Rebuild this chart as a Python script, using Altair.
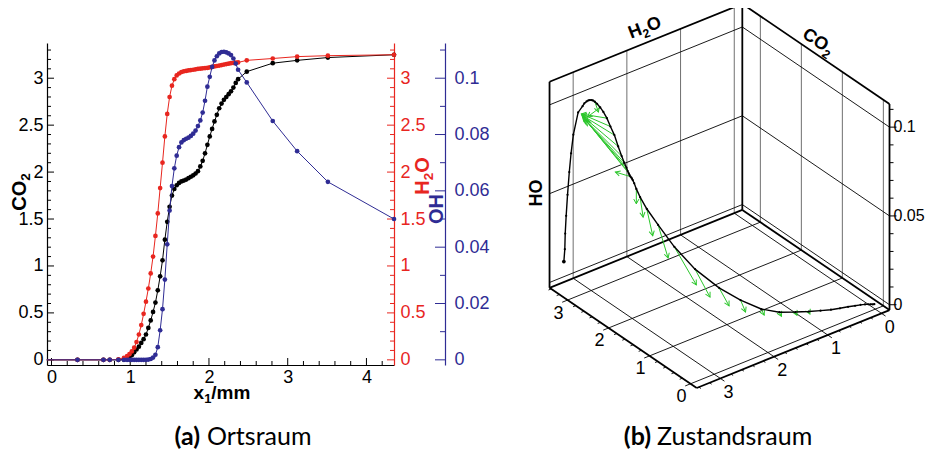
import math
import altair as alt
import pandas as pd

# ---------------- values ----------------
# (a) Ortsraum: common grid x1 [mm] and the three profiles
x1 = [-0.06, 0.33, 0.66, 0.74, 0.85, 0.92, 0.96,
      0.99, 1.02, 1.05, 1.08, 1.11, 1.14, 1.17, 1.20, 1.23, 1.26,
      1.29, 1.32, 1.35, 1.38, 1.41, 1.44, 1.47, 1.50, 1.53, 1.56,
      1.59, 1.62, 1.65, 1.68, 1.71, 1.74, 1.77, 1.80, 1.83, 1.86,
      1.89, 1.92, 1.95, 1.98, 2.01, 2.04, 2.07, 2.10, 2.13, 2.16,
      2.19, 2.22, 2.25, 2.28, 2.31, 2.34, 2.37,
      2.48, 2.81, 3.12, 3.51, 4.35]
co2 = [0, 0, 0, 0, 0, 0.002, 0.01,
       0.03, 0.05, 0.08, 0.11, 0.14, 0.18, 0.22, 0.27, 0.34, 0.42,
       0.51, 0.61, 0.74, 0.89, 1.06, 1.28, 1.47, 1.63, 1.75, 1.82,
       1.86, 1.885, 1.90, 1.91, 1.92, 1.935, 1.95, 1.965, 1.985, 2.01,
       2.06, 2.12, 2.20, 2.29, 2.38, 2.46, 2.54, 2.61, 2.68, 2.73,
       2.77, 2.80, 2.83, 2.86, 2.90, 2.95, 2.99,
       3.07, 3.16, 3.19, 3.22, 3.25]
h2o = [0, 0, 0, 0, 0.005, 0.02, 0.04,
       0.06, 0.09, 0.13, 0.19, 0.27, 0.37, 0.49, 0.62, 0.76, 0.92,
       1.10, 1.32, 1.56, 1.83, 2.10, 2.38, 2.62, 2.80, 2.92, 2.99,
       3.03, 3.05, 3.065, 3.073, 3.078, 3.083, 3.087, 3.09, 3.095, 3.10,
       3.102, 3.105, 3.108, 3.11, 3.115, 3.12, 3.125, 3.13, 3.135, 3.14,
       3.145, 3.15, 3.155, 3.16, 3.162, 3.165, 3.168,
       3.19, 3.21, 3.23, 3.24, 3.25]
oh = [0, 0, 0, 0, 0, 0, 0,
      0, 0, 0, 0, 0, 0, 0, 0, 0.0001, 0.0003,
      0.0008, 0.0018, 0.0045, 0.0105, 0.018, 0.0285, 0.041, 0.053, 0.0617, 0.068,
      0.0725, 0.0755, 0.0772, 0.078, 0.0785, 0.0789, 0.0795, 0.0803, 0.0814, 0.083,
      0.085, 0.0878, 0.092, 0.097, 0.1005, 0.104, 0.1063, 0.1078, 0.1088, 0.1093,
      0.1094, 0.1092, 0.1088, 0.1082, 0.107, 0.1052, 0.103,
      0.0985, 0.0848, 0.0741, 0.0632, 0.05]

# (b) Zustandsraum: extra states of the trajectory beyond the shown x1 range
tail_co2 = [3.27, 3.28, 3.29, 3.30]
tail_h2o = [3.26, 3.27, 3.27, 3.28]
tail_oh = [0.038, 0.028, 0.019, 0.012]

# green vectors: tail = state at x1 = arrow_at, vector in (CO2, H2O, OH)
arrow_at = [1.26, 1.29, 1.32, 1.35, 1.38, 1.41, 1.44, 1.47, 1.50, 1.53, 1.56, 1.59,
            1.74, 1.80, 1.83, 1.86, 1.89, 1.92, 1.95, 1.98, 2.01, 2.04, 2.10, 2.16]
arrow_dco2 = [-0.03, -0.04, -0.05, -0.073, -0.122, -0.244, -0.366, -0.537, -0.244, -0.146, -0.073, 0.0,
              0.366, 1.03, 1.03, 1.02, 0.99, 0.956, 0.87, 0.80, 0.70, 0.62, 0.31, -0.09]
arrow_dh2o = [0.0] * 24
arrow_doh = [-0.001, -0.0012, -0.0015, -0.0023, -0.0048, -0.0063, -0.0100, -0.0130, -0.0148, -0.0129, -0.0101, -0.0084,
             -0.0032, 0.0133, 0.0125, 0.0113, 0.0095, 0.0070, 0.0034, -0.0012, -0.0040, -0.0074, -0.0102, -0.0044]

# tick values
x_major = [0, 1, 2, 3, 4]
y_major = [0, 0.5, 1, 1.5, 2, 2.5, 3]
oh_major = [0, 0.02, 0.04, 0.06, 0.08, 0.1]
state_ticks = [0, 1, 2, 3]
oh3_ticks = [0, 0.05, 0.1]

# ---------------- styling / layout ----------------
W, H = 919, 449
RED = "#e8261f"
BLUE = "#2f2c94"
GREEN = "#2bc62b"
FONT = "Liberation Sans"
CAPFONT = "Lato"

xs = alt.Scale(domain=[-0.057, 4.35], range=[39, 386], nice=False, zero=False)
ys = alt.Scale(domain=[-0.055, 3.375], range=[357, 35], nice=False, zero=False)
yo = alt.Scale(domain=[-0.055 / 30, 3.375 / 30], range=[357, 35], nice=False, zero=False)
px = alt.Scale(domain=[0, W], range=[0, W], nice=False, zero=False)
py = alt.Scale(domain=[0, H], range=[0, H], nice=False, zero=False)

df = pd.DataFrame({"x1": x1, "co2": co2, "h2o": h2o, "oh": oh})
base = alt.Chart(df)

def ax_common(**kw):
    d = dict(ticks=False, tickSize=0, grid=False, title=None, labelFont=FONT,
             labelFontSize=18, labelOverlap=False, labelFlush=False, format="~g",
             domainWidth=1.2)
    d.update(kw)
    return alt.Axis(**d)

x_axis = ax_common(orient="bottom", offset=357 - H, values=x_major, labelPadding=3,
                   labelColor="black", domainColor="black")
co2_axis = ax_common(orient="left", offset=-39, values=y_major, labelPadding=4,
                     labelColor="black", domainColor="black", labelAlign="right")
h2o_axis = ax_common(orient="right", offset=386 - W, values=y_major, labelPadding=6,
                     labelColor=RED, domainColor=RED, labelAlign="left")
oh_axis = ax_common(orient="right", offset=437 - W, values=oh_major, labelPadding=9,
                    labelColor=BLUE, domainColor=BLUE, labelAlign="left")

def series(field, color, yscale, xaxis, yaxis):
    line = base.mark_line(color=color, strokeWidth=1).encode(
        x=alt.X("x1:Q", scale=xs, axis=xaxis),
        y=alt.Y(f"{field}:Q", scale=yscale, axis=yaxis),
        order=alt.Order("x1:Q"))
    pts = base.transform_filter("datum.x1 >= 0").mark_circle(color=color, size=22, opacity=1).encode(
        x=alt.X("x1:Q", scale=xs, axis=None),
        y=alt.Y(f"{field}:Q", scale=yscale, axis=None))
    return [line, pts]

def xticks(vals, length):
    return alt.Chart(pd.DataFrame({"t": vals})).mark_rule(color="black", strokeWidth=1).encode(
        x=alt.X("t:Q", scale=xs, axis=None), y=alt.value(357), y2=alt.value(357 - length))

def yticks(vals, scale, x0, length, color):
    return alt.Chart(pd.DataFrame({"t": vals})).mark_rule(color=color, strokeWidth=1).encode(
        y=alt.Y("t:Q", scale=scale, axis=None), x=alt.value(x0), x2=alt.value(x0 + length))

x_minor = [i / 5 for i in range(1, 22) if i % 5]
y_minor = [i / 10 for i in range(1, 34) if i % 5]
oh_minor = [i / 100 for i in range(1, 12, 2)]

def label(text, x, y, size=18, color="black", weight="bold", angle=0, align="center",
          baseline="middle", font=FONT):
    kw = dict(fontSize=size, color=color, fontWeight=weight, align=align, baseline=baseline, font=font)
    if angle:
        kw["angle"] = angle
    return alt.Chart(pd.DataFrame({"t": [text]})).mark_text(**kw).encode(
        text="t:N", x=alt.value(x), y=alt.value(y))

# approximate advance widths (em) of Liberation Sans Bold, to chain text pieces
CW = {"C": 0.722, "O": 0.778, "H": 0.722, "x": 0.556, "/": 0.278, "m": 0.889,
      "1": 0.556, "2": 0.556}

def chem(parts, cx, cy, size=19, color="black", angle=0):
    """parts: list of (text, is_subscript). Centered at (cx, cy), rotated by angle (deg, clockwise)."""
    sub = 0.68
    widths = [sum(CW.get(ch, 0.6) for ch in t) * size * (sub if s else 1.0) for t, s in parts]
    total = sum(widths)
    th = math.radians(angle)
    d = (math.cos(th), math.sin(th))
    n = (-math.sin(th), math.cos(th))
    layers = []
    pos = -total / 2
    for (t, s), w in zip(parts, widths):
        low = 0.32 * size if s else 0.0
        x = cx + d[0] * pos + n[0] * low
        y = cy + d[1] * pos + n[1] * low
        layers.append(label(t, x, y, size=size * (sub if s else 1.0), color=color,
                            angle=angle % 360, align="left"))
        pos += w
    return layers

left = []
left += [xticks(x_major, 7), xticks(x_minor, 4)]
left += [yticks(y_major, ys, 39, 7, "black"), yticks(y_minor, ys, 39, 4, "black")]
left += [yticks(y_major, ys, 386, -7, RED), yticks(y_minor, ys, 386, -4, RED)]
left += [yticks(oh_major, yo, 437, -10, BLUE), yticks(oh_minor, yo, 437, -5, BLUE)]
left += series("co2", "black", ys, x_axis, co2_axis)
left += series("h2o", RED, ys, None, h2o_axis)
left += series("oh", BLUE, yo, None, oh_axis)
left += chem([("CO", False), ("2", True)], 12, 184, size=20, angle=270)
left += chem([("H", False), ("2", True), ("O", False)], 415, 168, size=20, color=RED, angle=270)
left += [label("OH", 429, 201, size=20, color=BLUE, angle=270)]
left += chem([("x", False), ("1", True), ("/mm", False)], 214, 385, size=19)

# ---------------- (b) state space: oblique projection of (CO2, H2O, OH) ----------------
O3 = (867.3, 295.8)
E_CO2 = (-41.0, -27.9)
E_H2O = (-53.7, 21.7)
E_OH = (0.0, -1776.0)
C_LO, C_HI = -0.15, 3.44
H_LO, H_HI = -0.15, 3.44
O_LO, O_HI = -0.003, 0.113

def proj(c, h, o):
    return (O3[0] + E_CO2[0] * c + E_H2O[0] * h + E_OH[0] * o,
            O3[1] + E_CO2[1] * c + E_H2O[1] * h + E_OH[1] * o)

def segs(pairs):
    rows = []
    for a, b in pairs:
        xa, ya = proj(*a)
        xb, yb = proj(*b)
        rows.append({"x": xa, "y": ya, "x2": xb, "y2": yb})
    return pd.DataFrame(rows)

def seg_layer(pairs, color="black", width=1.0):
    return alt.Chart(segs(pairs)).mark_rule(color=color, strokeWidth=width).encode(
        x=alt.X("x:Q", scale=px, axis=None), y=alt.Y("y:Q", scale=py, axis=None),
        x2="x2:Q", y2="y2:Q")

floor_grid = [((k, H_LO, O_LO), (k, H_HI, O_LO)) for k in state_ticks] + \
             [((C_LO, k, O_LO), (C_HI, k, O_LO)) for k in state_ticks]
wall_vert = [((C_HI, k, O_LO), (C_HI, k, O_HI)) for k in state_ticks] + \
            [((k, H_LO, O_LO), (k, H_LO, O_HI)) for k in state_ticks]
wall_hor = [((C_HI, H_LO, w), (C_HI, H_HI, w)) for w in oh3_ticks] + \
           [((C_LO, H_LO, w), (C_HI, H_LO, w)) for w in oh3_ticks]
box = [((C_LO, H_LO, O_LO), (C_HI, H_LO, O_LO)),
       ((C_HI, H_LO, O_LO), (C_HI, H_HI, O_LO)),
       ((C_HI, H_HI, O_LO), (C_LO, H_HI, O_LO)),
       ((C_LO, H_HI, O_LO), (C_LO, H_LO, O_LO)),
       ((C_HI, H_HI, O_LO), (C_HI, H_HI, O_HI)),
       ((C_HI, H_LO, O_LO), (C_HI, H_LO, O_HI)),
       ((C_LO, H_LO, O_LO), (C_LO, H_LO, O_HI)),
       ((C_HI, H_HI, O_HI), (C_HI, H_LO, O_HI)),
       ((C_HI, H_LO, O_HI), (C_LO, H_LO, O_HI))]
fine = [i / 5 for i in range(0, 18)]
edge_ticks = [((c, H_HI, O_LO), (c, H_HI + (0.1 if abs(c - round(c)) < 1e-9 else 0.05), O_LO)) for c in fine] + \
             [((C_LO, h, O_LO), (C_LO - (0.1 if abs(h - round(h)) < 1e-9 else 0.05), h, O_LO)) for h in fine]

# vertical OH axis ticks (to the right)
oh_fine = [i / 100 for i in range(0, 12)]
vt = []
for w in oh_fine:
    xa, ya = proj(C_LO, H_LO, w)
    L = 7 if any(abs(w - m) < 1e-9 for m in oh3_ticks) else 4
    vt.append({"x": xa, "y": ya, "x2": xa + L, "y2": ya})
vt_layer = alt.Chart(pd.DataFrame(vt)).mark_rule(color="black", strokeWidth=1).encode(
    x=alt.X("x:Q", scale=px, axis=None), y=alt.Y("y:Q", scale=py, axis=None), x2="x2:Q", y2="y2:Q")

# trajectory
sc = co2 + tail_co2
sh = h2o + tail_h2o
so = oh + tail_oh
traj = []
for i, (c, h, o) in enumerate(zip(sc, sh, so)):
    X, Y = proj(c, h, o)
    traj.append({"i": i, "x": X, "y": Y})
traj = pd.DataFrame(traj)
traj_line = alt.Chart(traj).mark_line(color="black", strokeWidth=1.4).encode(
    x=alt.X("x:Q", scale=px, axis=None), y=alt.Y("y:Q", scale=py, axis=None), order="i:Q")
traj_pts = alt.Chart(traj.iloc[5:]).mark_circle(color="black", size=5, opacity=1).encode(
    x=alt.X("x:Q", scale=px, axis=None), y=alt.Y("y:Q", scale=py, axis=None))
traj_end = alt.Chart(traj.iloc[[-1]]).mark_circle(color="black", size=14, opacity=1).encode(
    x=alt.X("x:Q", scale=px, axis=None), y=alt.Y("y:Q", scale=py, axis=None))

# arrows
arr = []
for at, dc, dh, do in zip(arrow_at, arrow_dco2, arrow_dh2o, arrow_doh):
    k = min(range(len(x1)), key=lambda j: abs(x1[j] - at))
    tx, ty = proj(co2[k], h2o[k], oh[k])
    hx, hy = proj(co2[k] + dc, h2o[k] + dh, oh[k] + do)
    ang = math.degrees(math.atan2(hx - tx, -(hy - ty))) % 360
    arr.append({"x": tx, "y": ty, "x2": hx, "y2": hy, "ang": ang})
arr = pd.DataFrame(arr)
arrow_shafts = alt.Chart(arr).mark_rule(color=GREEN, strokeWidth=1).encode(
    x=alt.X("x:Q", scale=px, axis=None), y=alt.Y("y:Q", scale=py, axis=None), x2="x2:Q", y2="y2:Q")
arrow_heads = alt.Chart(arr).mark_point(shape="M -0.55 1 L 0 0 L 0.55 1", filled=False, color=GREEN,
                                        strokeWidth=1, size=90, opacity=1).encode(
    x=alt.X("x2:Q", scale=px, axis=None), y=alt.Y("y2:Q", scale=py, axis=None),
    angle=alt.Angle("ang:Q", scale=None))

# tick labels of the state space
lab = []
for c in state_ticks:
    X, Y = proj(c, H_HI + 0.17, O_LO - 0.0055)
    lab.append({"x": X, "y": Y, "t": str(c)})
for h in state_ticks:
    X, Y = proj(C_LO - 0.2, h, O_LO - 0.005)
    lab.append({"x": X, "y": Y, "t": str(h)})
lab = pd.DataFrame(lab)
lab_layer = alt.Chart(lab).mark_text(fontSize=18, font=FONT, color="black", baseline="middle", align="center").encode(
    x=alt.X("x:Q", scale=px, axis=None), y=alt.Y("y:Q", scale=py, axis=None), text="t:N")
ohl = []
for w in oh3_ticks:
    X, Y = proj(C_LO, H_LO, w)
    ohl.append({"x": X, "y": Y, "t": f"{w:g}"})
ohl_layer = alt.Chart(pd.DataFrame(ohl)).mark_text(fontSize=16, font=FONT, color="black", baseline="middle",
                                                  align="left", dx=4).encode(
    x=alt.X("x:Q", scale=px, axis=None), y=alt.Y("y:Q", scale=py, axis=None), text="t:N")

right = [seg_layer(floor_grid, "black", 0.9),
         seg_layer(wall_vert, "#707070", 1.0),
         seg_layer(wall_hor, "black", 0.9),
         seg_layer(edge_ticks, "black", 0.9),
         seg_layer(box, "black", 1.8),
         vt_layer,
         arrow_shafts, arrow_heads,
         traj_line, traj_pts, traj_end,
         lab_layer, ohl_layer]
right += chem([("H", False), ("2", True), ("O", False)], 637, 20, size=18, angle=-21)
right += chem([("CO", False), ("2", True)], 810, 34, size=18, angle=34)
right += [label("HO", 529, 185, size=18, angle=270)]

captions = [label("(a)", 192, 437, size=25, weight="bold", align="right", baseline="alphabetic", font=CAPFONT),
            label("Ortsraum", 199, 437, size=25, weight="normal", align="left", baseline="alphabetic", font=CAPFONT),
            label("(b)", 643, 437, size=25, weight="bold", align="right", baseline="alphabetic", font=CAPFONT),
            label("Zustandsraum", 649, 437, size=25, weight="normal", align="left", baseline="alphabetic", font=CAPFONT)]

chart = alt.layer(*(left + right + captions)).resolve_scale(
    x="independent", y="independent"
).properties(
    width=W, height=H, padding=0, autosize=alt.AutoSizeParams(type="none")
).configure_view(stroke=None)

chart.save("out.html", embed_options={"renderer": "svg", "actions": False})
